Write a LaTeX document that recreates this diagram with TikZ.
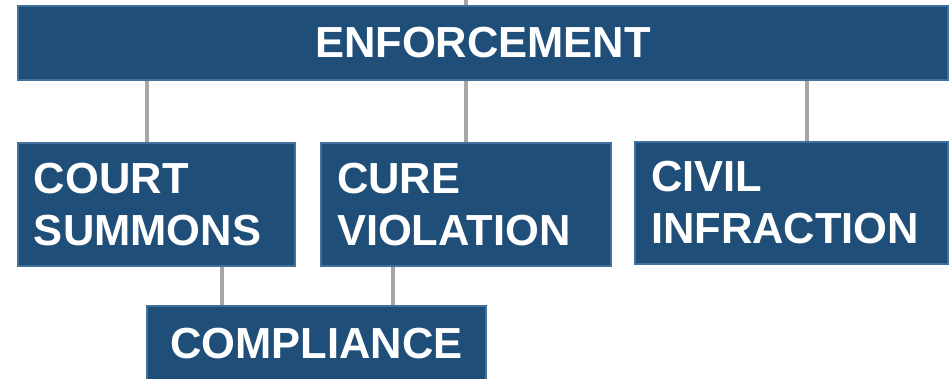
\documentclass[tikz,border=0pt]{standalone}
\usepackage{fontspec}
\setmainfont{Liberation Sans}
\definecolor{boxblue}{RGB}{31,78,121}
\definecolor{edgeblue}{RGB}{65,113,156}
\definecolor{linkgray}{RGB}{168,165,165}
\tikzset{
  box/.style={draw=edgeblue, line width=1.5pt, fill=boxblue, text=white,
    font=\fontsize{43.5}{52}\selectfont\bfseries, inner xsep=16pt, inner ysep=0pt},
  wide/.style={box, align=left, text width=#1},
  link/.style={draw=linkgray, line width=4pt}
}
\begin{document}
\begin{tikzpicture}[x=1pt,y=-1pt]
  \useasboundingbox (0,0) rectangle (951,379);

  % 顶层
  \node[box, minimum width=930pt, minimum height=74pt] (enf) at (483,43) {ENFORCEMENT};
  \coordinate (top) at (466,0);

  % 第二层
  \node[wide=245pt, minimum width=277pt, minimum height=123pt] (court) at (156.5,204.5) {COURT\\SUMMONS};
  \node[wide=258pt, minimum width=290pt, minimum height=123pt] (cure) at (466,204.5) {CURE\\VIOLATION};
  \node[wide=281pt, minimum width=313pt, minimum height=122pt] (civil) at (791.5,203) {CIVIL\\INFRACTION};

  % 第三层
  \node[box, minimum width=339pt, minimum height=76pt] (comp) at (316.5,344) {COMPLIANCE};

  % 连线
  \draw[link] (top) -- (top |- enf.north);
  \draw[link] ([xshift=-9.5pt]court.north) -- ([xshift=-9.5pt]court.north |- enf.south);
  \draw[link] (cure.north) -- (cure.north |- enf.south);
  \draw[link] ([xshift=15.5pt]civil.north) -- ([xshift=15.5pt]civil.north |- enf.south);
  \draw[link] ([xshift=-94.5pt]comp.north) -- ([xshift=-94.5pt]comp.north |- court.south);
  \draw[link] ([xshift=76.5pt]comp.north) -- ([xshift=76.5pt]comp.north |- cure.south);
\end{tikzpicture}
\end{document}
